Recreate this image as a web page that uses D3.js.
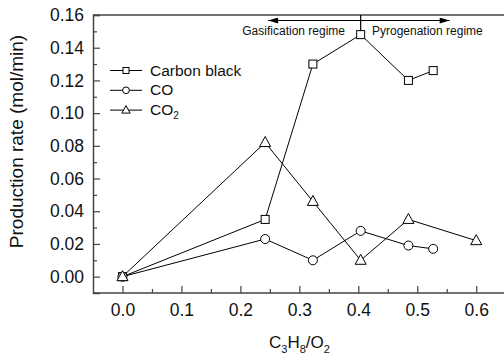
<!DOCTYPE html>
<html>
<head>
<meta charset="utf-8">
<script src="https://cdn.jsdelivr.net/npm/d3@7"></script>
<style>
  body { margin: 0; background: #fff; }
  svg { font-family: "Liberation Sans", Arial, sans-serif; }
</style>
</head>
<body>
<svg id="chart" width="504" height="360"></svg>
<script>
/* data */
const ratio = [0, 0.242, 0.323, 0.404, 0.485, 0.527];
const ratioCO2 = [0, 0.242, 0.323, 0.404, 0.485, 0.600];
const carbonBlack = [0, 0.035, 0.130, 0.148, 0.120, 0.126];
const co = [0, 0.023, 0.010, 0.028, 0.019, 0.017];
const co2 = [0, 0.082, 0.046, 0.010, 0.035, 0.022];
const xTicks = [0, 0.1, 0.2, 0.3, 0.4, 0.5, 0.6];
const yTicks = [0, 0.02, 0.04, 0.06, 0.08, 0.10, 0.12, 0.14, 0.16];
const seriesNames = ["Carbon black", "CO", "CO2"];
const regimeSplit = 0.404;

const svg = d3.select("#chart");
const plotLeft = 93, plotRight = 505.7, plotTop = 15, plotBottom = 293;

var x = d3.scaleLinear().domain([-0.05, 0.65]).range([plotLeft, plotRight]);
var y = d3.scaleLinear().domain([-0.01, 0.16]).range([plotBottom, plotTop]);

const axisColor = "#444";

/* x axis, ticks pointing inward */
var xAxis = d3.axisBottom(x)
    .tickValues(xTicks)
    .tickSize(-7)
    .tickPadding(11)
    .tickFormat(d3.format(".1f"));
var gx = svg.append("g")
    .attr("transform", "translate(0," + plotBottom + ")")
    .call(xAxis);
svg.append("g")
    .attr("transform", "translate(0," + plotBottom + ")")
    .call(d3.axisBottom(x).tickValues(d3.range(0.05, 0.6, 0.1)).tickSize(-4).tickFormat(""))
    .select(".domain").remove();

/* y axis */
var yAxis = d3.axisLeft(y)
    .tickValues(yTicks)
    .tickSize(-7)
    .tickPadding(9)
    .tickFormat(d3.format(".2f"));
var gy = svg.append("g")
    .attr("transform", "translate(" + plotLeft + ",0)")
    .call(yAxis);
svg.append("g")
    .attr("transform", "translate(" + plotLeft + ",0)")
    .call(d3.axisLeft(y).tickValues(d3.range(0.01, 0.16, 0.02)).tickSize(-4).tickFormat(""))
    .select(".domain").remove();

svg.selectAll(".domain").attr("stroke", axisColor).attr("stroke-width", 1.5);
svg.selectAll(".tick line").attr("stroke", axisColor).attr("stroke-width", 1.2);
svg.selectAll(".tick text").style("font-size", "17.5px").attr("fill", "#111");
gx.select(".domain").attr("d", "M" + plotLeft + ",0H" + 504);

/* top frame line */
svg.append("line")
    .attr("x1", plotLeft).attr("x2", 504)
    .attr("y1", plotTop).attr("y2", plotTop)
    .attr("stroke", axisColor).attr("stroke-width", 1.5);

/* axis labels */
svg.append("text")
    .attr("transform", "translate(23,141.5) rotate(-90)")
    .attr("text-anchor", "middle")
    .style("font-size", "19px")
    .attr("fill", "#111")
    .text("Production rate (mol/min)");

var xl = svg.append("text")
    .attr("x", 299.5).attr("y", 347.5)
    .attr("text-anchor", "middle")
    .style("font-size", "17px")
    .attr("fill", "#111");
xl.append("tspan").text("C");
xl.append("tspan").attr("dy", 5).style("font-size", "11px").text("3");
xl.append("tspan").attr("dy", -5).text("H");
xl.append("tspan").attr("dy", 5).style("font-size", "11px").text("8");
xl.append("tspan").attr("dy", -5).text("/O");
xl.append("tspan").attr("dy", 5).style("font-size", "11px").text("2");

/* regime arrows */
svg.append("defs").append("marker")
    .attr("id", "arrow")
    .attr("viewBox", "0 0 10 6")
    .attr("refX", 10).attr("refY", 3)
    .attr("markerWidth", 15).attr("markerHeight", 6)
    .attr("markerUnits", "userSpaceOnUse")
    .attr("orient", "auto")
    .append("path")
    .attr("d", "M0,0L10,3L0,6Z")
    .attr("fill", "#000");

const arrowY = 20.5;
svg.append("line")
    .attr("x1", x(regimeSplit)).attr("x2", x(0.247))
    .attr("y1", arrowY).attr("y2", arrowY)
    .attr("stroke", "#000").attr("stroke-width", 1.2)
    .attr("marker-end", "url(#arrow)");
svg.append("line")
    .attr("x1", x(regimeSplit)).attr("x2", x(0.555))
    .attr("y1", arrowY).attr("y2", arrowY)
    .attr("stroke", "#000").attr("stroke-width", 1.2)
    .attr("marker-end", "url(#arrow)");
svg.append("line")
    .attr("x1", x(regimeSplit)).attr("x2", x(regimeSplit))
    .attr("y1", plotTop).attr("y2", y(0.148))
    .attr("stroke", "#000").attr("stroke-width", 1.2);

svg.append("text")
    .attr("x", 345).attr("y", 34.5)
    .attr("text-anchor", "end")
    .style("font-size", "12px")
    .attr("fill", "#111")
    .text("Gasification regime");
svg.append("text")
    .attr("x", 372).attr("y", 34.5)
    .style("font-size", "12px")
    .attr("fill", "#111")
    .text("Pyrogenation regime");

/* series */
var line = d3.line().x(d => x(d[0])).y(d => y(d[1]));
const series = [
    { name: seriesNames[0], shape: "square", pts: d3.zip(ratio, carbonBlack) },
    { name: seriesNames[1], shape: "circle", pts: d3.zip(ratio, co) },
    { name: seriesNames[2], shape: "triangle", pts: d3.zip(ratioCO2, co2) }
];

function drawMarker(g, shape, cx, cy, k) {
    if (shape === "square") {
        g.append("rect").attr("x", cx - 4 * k).attr("y", cy - 4 * k)
            .attr("width", 8 * k).attr("height", 8 * k);
    } else if (shape === "circle") {
        g.append("circle").attr("cx", cx).attr("cy", cy).attr("r", 4.5 * k);
    } else {
        g.append("path")
            .attr("d", "M" + cx + "," + (cy - 6 * k) + "L" + (cx + 5.5 * k) + "," + (cy + 4 * k) +
                "L" + (cx - 5.5 * k) + "," + (cy + 4 * k) + "Z");
    }
}

series.forEach(function (s) {
    svg.append("path")
        .datum(s.pts)
        .attr("d", line)
        .attr("fill", "none")
        .attr("stroke", "#000")
        .attr("stroke-width", 1);
});
series.forEach(function (s) {
    var g = svg.append("g").attr("fill", "#fff").attr("stroke", "#000").attr("stroke-width", 1);
    s.pts.forEach(function (p) {
        drawMarker(g, s.shape, x(p[0]), y(p[1]), 1);
    });
});

/* legend */
series.forEach(function (s, i) {
    const ly = 70.5 + i * 19.8;
    svg.append("line")
        .attr("x1", 110).attr("x2", 142)
        .attr("y1", ly).attr("y2", ly)
        .attr("stroke", "#000").attr("stroke-width", 1);
    var g = svg.append("g").attr("fill", "#fff").attr("stroke", "#000").attr("stroke-width", 1);
    drawMarker(g, s.shape, 126, ly, 0.75);
    var t = svg.append("text")
        .attr("x", 150).attr("y", ly + 5)
        .style("font-size", "15.5px")
        .attr("fill", "#111");
    if (s.name === "CO2") {
        t.append("tspan").text("CO");
        t.append("tspan").attr("dy", 4).style("font-size", "10px").text("2");
    } else {
        t.text(s.name);
    }
});
</script>
</body>
</html>
